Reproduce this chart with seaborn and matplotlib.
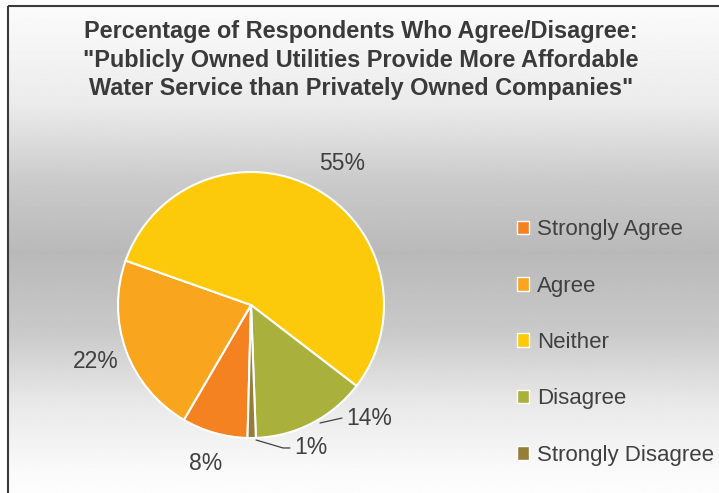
import numpy as np
import matplotlib
matplotlib.use("Agg")
import matplotlib.pyplot as plt
import seaborn as sns
from matplotlib.patches import Rectangle, Patch

categories = ["Strongly Agree", "Agree", "Neither", "Disagree", "Strongly Disagree"]
values = [8, 22, 55, 14, 1]
colors = ["#F58220", "#F9A51E", "#FDCA0B", "#A9B03B", "#957D3A"]
title = ('Percentage of Respondents Who Agree/Disagree:\n'
         '"Publicly Owned Utilities Provide More Affordable\n'
         'Water Service than Privately Owned Companies"')

sns.set_theme(style="white")
plt.rcParams['font.family'] = ['Liberation Sans', 'DejaVu Sans']
TXT = "#404040"

W, H = 719, 493
fig = plt.figure(figsize=(W / 100, H / 100), dpi=100)
fig.patch.set_facecolor("white")

# background gradient inside chart border
bg = fig.add_axes([0, 0, 1, 1], zorder=-5)
bg.set_xlim(0, W)
bg.set_ylim(H, 0)
bg.axis("off")
ys = np.array([0, 100, 180, 250, 330, 400, 470, 493])
gs = np.array([0.985, 0.92, 0.79, 0.725, 0.79, 0.91, 0.98, 0.99])
yy = np.arange(H)
grad = np.interp(yy, ys, gs)
img = np.repeat(grad[:, None], 2, axis=1)
bg.imshow(img, cmap="gray", vmin=0, vmax=1, aspect="auto",
          extent=[8, W + 5, H, 6], interpolation="bilinear")
bg.add_patch(Rectangle((8, 6), W, H, fill=False, edgecolor="#3a3a3a", lw=1.5))

# pie
cx, cy, r = 251, 305, 133
ax = fig.add_axes([(cx - r) / W, (H - cy - r) / H, 2 * r / W, 2 * r / H])
pal = sns.color_palette(colors)
wedges, texts, autotexts = ax.pie(
    values, colors=pal, startangle=268.5, counterclock=False,
    autopct="%d%%", pctdistance=1.24,
    wedgeprops=dict(edgecolor="white", linewidth=1.5),
    textprops=dict(color=TXT, fontsize=16.5))
ax.set_xlim(-1, 1)
ax.set_ylim(-1, 1)
ax.set_aspect("equal")
ax.axis("off")

# Neither label
autotexts[2].set_position((0.683, 1.063))
# Disagree label with leader
autotexts[3].set_position((0.891, -0.853))
ax.plot([0.519, 0.684], [-0.887, -0.850], color=TXT, lw=0.9, clip_on=False)
# Strongly Disagree label with leader
autotexts[4].set_position((0.451, -1.071))
ax.plot([0.038, 0.241, 0.293], [-1.015, -1.075, -1.075], color=TXT, lw=0.9, clip_on=False)

# legend
handles = [Patch(facecolor=c, edgecolor="white", lw=1) for c in colors]
leg = fig.legend(handles, categories, loc="center left",
                 bbox_to_anchor=(517 / W, 1 - 342.5 / H), frameon=False,
                 borderpad=0, borderaxespad=0,
                 fontsize=16, labelcolor=TXT, handlelength=0.55, handleheight=0.55,
                 handletextpad=0.35, labelspacing=1.59)

fig.text(361 / W, 1 - 60 / H, title, ha="center", va="center", fontsize=16.9,
         fontweight="bold", color="#3a3a3a", linespacing=1.3)

fig.savefig("out.png", dpi=100)
